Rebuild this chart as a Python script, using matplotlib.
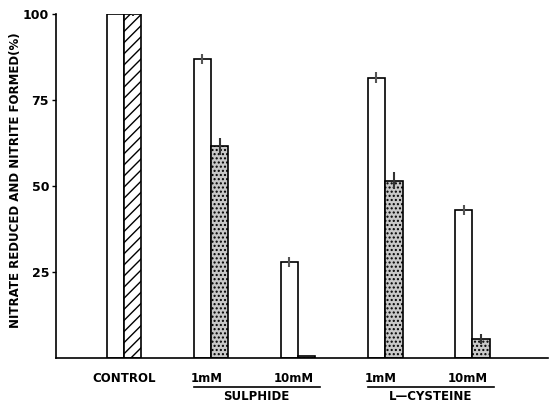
import numpy as np
import matplotlib
matplotlib.use('Agg')
import matplotlib.pyplot as plt

# data (% of control)
groups = ['CONTROL', '1mM', '10mM', '1mM', '10mM']
nitrate_reduced = [100, 87, 28, 81.5, 43]
nitrite_formed = [100, 61.5, 0.5, 51.5, 5.5]
err_reduced = [0, 1.5, 1.5, 1.5, 1.5]
err_formed = [0.5, 2.5, 0, 2.5, 1.5]
treatments = ['SULPHIDE', 'L\u2014CYSTEINE']

plt.rcParams['font.family'] = ['Liberation Sans Narrow', 'DejaVu Sans']
plt.rcParams['font.weight'] = 'bold'

fig = plt.figure(figsize=(5.5, 4.05), dpi=100)
ax = fig.add_axes([56/550, 47/405, 492/550, 344/405])

x = np.arange(len(groups))
w = 0.2
ax.bar(x - w/2, nitrate_reduced, w, color='white', edgecolor='black', lw=1.2,
       yerr=err_reduced, ecolor='#555555', capsize=0, error_kw={'lw': 1.5})
fills = ['white'] + ['#c8c8c8'] * 4
hatches = ['///'] + ['....'] * 4
for i in range(len(groups)):
    ax.bar(x[i] + w/2, nitrite_formed[i], w, color=fills[i], edgecolor='black',
           hatch=hatches[i], lw=1.2, yerr=err_formed[i], ecolor='#333333',
           capsize=0, error_kw={'lw': 1.5})

ax.set_xlim(-0.78, 4.87)
ax.set_ylim(0, 100)
ax.set_yticks([25, 50, 75, 100])
ax.set_yticklabels(['25', '50', '75', '100'], fontsize=9, fontweight='bold')
ax.tick_params(axis='y', length=3, width=1, direction='out', pad=2)
ax.set_xticks([])
for s in ['top', 'right']:
    ax.spines[s].set_visible(False)
ax.spines['left'].set_linewidth(1.2)
ax.spines['bottom'].set_linewidth(1.2)

ax.set_ylabel('NITRATE REDUCED AND NITRITE FORMED(%)', fontsize=8.5,
              fontweight='bold')
ax.yaxis.set_label_coords(-0.069, 0.517)

# group labels under the axis
trans = ax.get_xaxis_transform()
for i, g in enumerate(groups):
    xx = x[i] if i == 0 else x[i] - 0.05
    ax.text(xx, -0.06, g, transform=trans, ha='center', va='center',
            fontsize=8.5, fontweight='bold')
for k, t in enumerate(treatments):
    a, b = x[1 + 2*k] - 0.2, x[2 + 2*k] + 0.25
    ax.plot([a, b], [-0.083, -0.083], transform=trans, color='black',
            lw=1.2, clip_on=False)
    ax.text((a + b) / 2, -0.113, t, transform=trans, ha='center', va='center',
            fontsize=8.5, fontweight='bold')

fig.savefig('out.png', dpi=100)
